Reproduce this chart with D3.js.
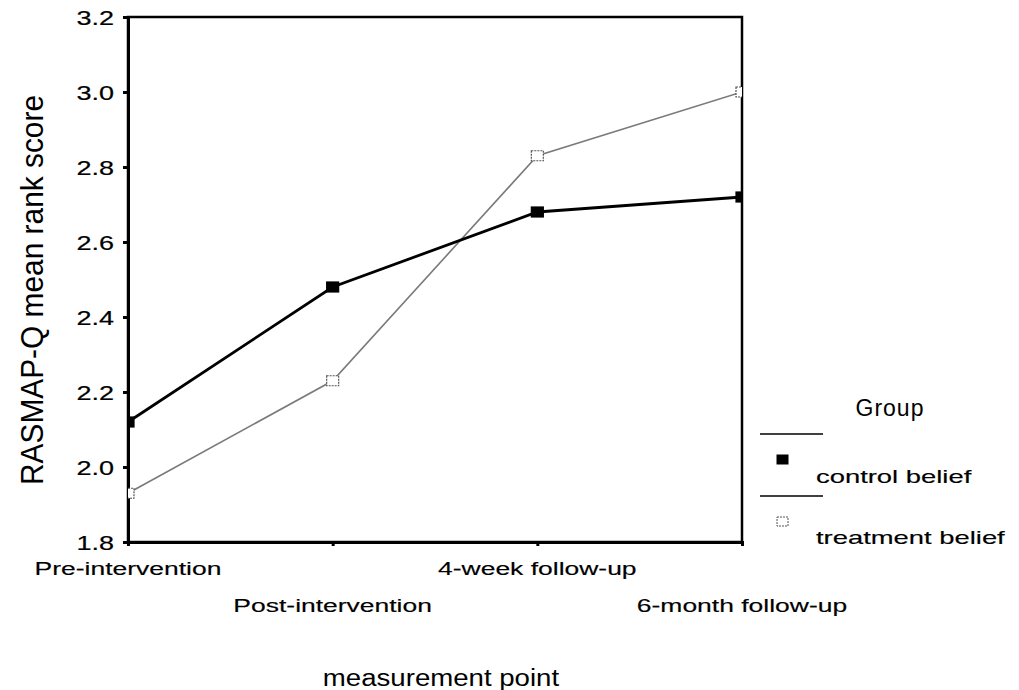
<!DOCTYPE html>
<html>
<head>
<meta charset="utf-8">
<script src="https://d3js.org/d3.v7.min.js"></script>
<style>
  body { margin: 0; background: #fff; }
  svg text { font-family: "Liberation Sans", Arial, sans-serif; fill: #000; }
</style>
</head>
<body>
<div id="chart"></div>
<script>
const points = ["Pre-intervention", "Post-intervention", "4-week follow-up", "6-month follow-up"];
const controlBelief = [2.12, 2.48, 2.68, 2.72];
const treatmentBelief = [1.93, 2.23, 2.83, 3.00];
const yTicks = [1.8, 2.0, 2.2, 2.4, 2.6, 2.8, 3.0, 3.2];

const width = 1019, height = 690;
const margin = {left: 128, top: 17, right: 277, bottom: 148};

const svg = d3.select("#chart").append("svg")
  .attr("width", width)
  .attr("height", height);

// the scanned font is wide: stretch text horizontally
function widen(sel, factor) {
  sel.each(function() {
    const w = this.getComputedTextLength();
    d3.select(this)
      .attr("textLength", w * factor)
      .attr("lengthAdjust", "spacingAndGlyphs");
  });
}

const x = d3.scalePoint()
  .domain(points)
  .range([margin.left, width - margin.right]);

const y = d3.scaleLinear()
  .domain([1.8, 3.2])
  .range([height - margin.bottom, margin.top]);

svg.append("defs").append("clipPath")
  .attr("id", "plot-clip")
  .append("rect")
  .attr("x", margin.left)
  .attr("y", margin.top)
  .attr("width", width - margin.right - margin.left)
  .attr("height", height - margin.bottom - margin.top);

// frame
svg.append("rect")
  .attr("x", margin.left)
  .attr("y", margin.top)
  .attr("width", width - margin.right - margin.left)
  .attr("height", height - margin.bottom - margin.top)
  .attr("fill", "none")
  .attr("stroke", "#000")
  .attr("stroke-width", 2.5);

// y axis
const yAxis = svg.append("g")
  .attr("transform", `translate(${margin.left},0)`)
  .call(d3.axisLeft(y).tickValues(yTicks).tickFormat(d3.format(".1f")).tickSize(5).tickPadding(9));
yAxis.select(".domain").attr("stroke-width", 3);
yAxis.selectAll(".tick line").attr("stroke-width", 3);
yAxis.selectAll(".tick text")
  .attr("font-size", 20)
  .attr("stroke", "#000")
  .attr("stroke-width", 0.2)
  .attr("dy", "0.35em")
  .call(widen, 1.35);

// x axis
const xAxis = svg.append("g")
  .attr("transform", `translate(0,${height - margin.bottom})`)
  .call(d3.axisBottom(x).tickSize(4).tickFormat(""));
xAxis.select(".domain").attr("stroke-width", 3);
xAxis.selectAll(".tick line").attr("stroke-width", 3);

svg.append("g").selectAll("text")
  .data(points)
  .join("text")
  .attr("x", d => x(d))
  .attr("y", (d, i) => i % 2 === 0 ? 575 : 612)
  .attr("text-anchor", "middle")
  .attr("font-size", 18)
  .attr("stroke", "#000")
  .attr("stroke-width", 0.15)
  .text(d => d)
  .call(widen, 1.47);

// axis titles
svg.append("text")
  .attr("x", 441)
  .attr("y", 686)
  .attr("text-anchor", "middle")
  .attr("font-size", 23)
  .text("measurement point")
  .call(widen, 1.2);

svg.append("text")
  .attr("transform", "translate(43,290) rotate(-90)")
  .attr("text-anchor", "middle")
  .attr("font-size", 31)
  .attr("textLength", 390)
  .attr("lengthAdjust", "spacingAndGlyphs")
  .text("RASMAP-Q mean rank score");

// lines
const series = [
  {name: "control belief", values: controlBelief, stroke: "#000", width: 2.8, fill: "#000", mstroke: "#000"},
  {name: "treatment belief", values: treatmentBelief, stroke: "#7a7a7a", width: 1.6, fill: "#fff", mstroke: "#555"}
];

const line = d3.line()
  .x((d, i) => x(points[i]))
  .y(d => y(d));

const plot = svg.append("g").attr("clip-path", "url(#plot-clip)");

// treatment first so control sits on top
[series[1], series[0]].forEach(s => {
  plot.append("path")
    .datum(s.values)
    .attr("fill", "none")
    .attr("stroke", s.stroke)
    .attr("stroke-width", s.width)
    .attr("d", line);
});

[series[1], series[0]].forEach(s => {
  plot.append("g").selectAll("rect")
    .data(s.values)
    .join("rect")
    .attr("x", (d, i) => x(points[i]) - 6)
    .attr("y", d => y(d) - 5)
    .attr("width", 12)
    .attr("height", 10)
    .attr("fill", s.fill)
    .attr("stroke", s.mstroke)
    .attr("stroke-width", 1.2)
    .attr("stroke-dasharray", s.fill === "#fff" ? "2,1" : null);
});

// legend
const legend = svg.append("g");
legend.append("text")
  .attr("x", 890)
  .attr("y", 416)
  .attr("text-anchor", "middle")
  .attr("font-size", 23)
  .attr("letter-spacing", 1)
  .text("Group");

legend.selectAll("line")
  .data(series)
  .join("line")
  .attr("x1", 760)
  .attr("x2", 823)
  .attr("y1", (d, i) => 434 + i * 62)
  .attr("y2", (d, i) => 434 + i * 62)
  .attr("stroke", "#000")
  .attr("stroke-width", 1.3);

legend.selectAll("rect")
  .data(series)
  .join("rect")
  .attr("x", 777)
  .attr("y", (d, i) => 455 + i * 62)
  .attr("width", 11)
  .attr("height", 9)
  .attr("fill", d => d.fill)
  .attr("stroke", d => d.mstroke)
  .attr("stroke-width", 1)
  .attr("stroke-dasharray", d => d.fill === "#fff" ? "2,1" : null);

legend.selectAll("text.item")
  .data(series)
  .join("text")
  .attr("class", "item")
  .attr("x", 816)
  .attr("y", (d, i) => 483 + i * 61)
  .attr("font-size", 18.5)
  .attr("stroke", "#000")
  .attr("stroke-width", 0.15)
  .text(d => d.name)
  .call(widen, 1.48);
</script>
</body>
</html>
